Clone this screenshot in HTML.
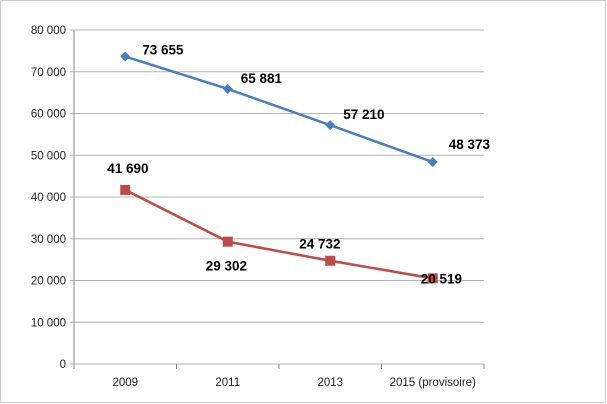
<!DOCTYPE html>
<html><head><meta charset="utf-8"><style>
html,body{margin:0;padding:0;background:#fff;}
svg{display:block;font-family:"Liberation Sans",sans-serif;}
</style></head><body>
<svg width="607" height="404" viewBox="0 0 607 404">
<rect x="0.5" y="0.5" width="605" height="402" fill="#fff" stroke="#999" stroke-dasharray="1,1"/>
<g id="grid"></g><g id="axes"></g><g id="series"></g>
</svg>
<script>
const categories=["2009","2011","2013","2015 (provisoire)"];
const seriesA=[73655,65881,57210,48373];
const seriesB=[41690,29302,24732,20519];
const labelsA=["73 655","65 881","57 210","48 373"];
const labelsB=["41 690","29 302","24 732","20 519"];
const yTicks=[0,10000,20000,30000,40000,50000,60000,70000,80000];
const yTickLabels=["0","10 000","20 000","30 000","40 000","50 000","60 000","70 000","80 000"];
const NS="http://www.w3.org/2000/svg";
const L=74,R=484,T=30,B=364,yMax=80000;
const y=v=>B-(v/yMax)*(B-T);
const x=i=>L+(i+0.5)*(R-L)/categories.length;
function mk(p,t,a){const e=document.createElementNS(NS,t);for(const k in a)e.setAttribute(k,a[k]);p.appendChild(e);return e;}
const grid=document.getElementById('grid'),axes=document.getElementById('axes'),ser=document.getElementById('series');
yTicks.forEach((v,i)=>{
 const l=mk(grid,'line',{x1:L-4,x2:R,y1:y(v),y2:y(v),stroke:'#b3b3b3','stroke-width':1});
 
 
 const t=mk(axes,'text',{x:L-8,y:y(v)+4,'text-anchor':'end','font-size':'11.5',fill:'#222'});
 t.textContent=yTickLabels[i];
 
 
});
const ya=mk(axes,'line',{x1:L,x2:L,y1:T,y2:B,stroke:'#888'});


for(let i=0;i<=categories.length;i++){
 const xx=L+i*(R-L)/categories.length;
 mk(axes,'line',{x1:xx,x2:xx,y1:B,y2:B+5,stroke:'#888'});
}
categories.forEach((c,i)=>{
 const t=mk(axes,'text',{x:x(i),y:B+22,'text-anchor':'middle','font-size':'11.5',fill:'#222'});
 t.textContent=c;
 
 
});
function drawSeries(vals,labels,color,shape,name,offs){
 const pl=mk(ser,'polyline',{points:vals.map((v,i)=>x(i)+','+y(v)).join(' '),fill:'none',stroke:color,'stroke-width':2.5});
 
 
 vals.forEach((v,i)=>{
  let m;
  if(shape==='d'){const cx=x(i),cy=y(v);m=mk(ser,'polygon',{points:`${cx},${cy-5} ${cx+5},${cy} ${cx},${cy+5} ${cx-5},${cy}`,fill:color});}
  else m=mk(ser,'rect',{x:x(i)-5,y:y(v)-5,width:10,height:10,fill:color});
  
  
  const t=mk(ser,'text',{x:x(i)+offs[i][0],y:y(v)+offs[i][1],'font-size':'13.5','font-weight':'bold',fill:'#000'});
  t.textContent=labels[i];
  
  
 });
}
drawSeries(seriesA,labelsA,'#4a7ebb','d','series-a',[[17,-2],[13,-6],[13,-6],[16,-13]]);
drawSeries(seriesB,labelsB,'#be4b48','s','series-b',[[-18,-17],[-22,29],[-31,-12],[-12,5]]);
</script>
</body></html>
